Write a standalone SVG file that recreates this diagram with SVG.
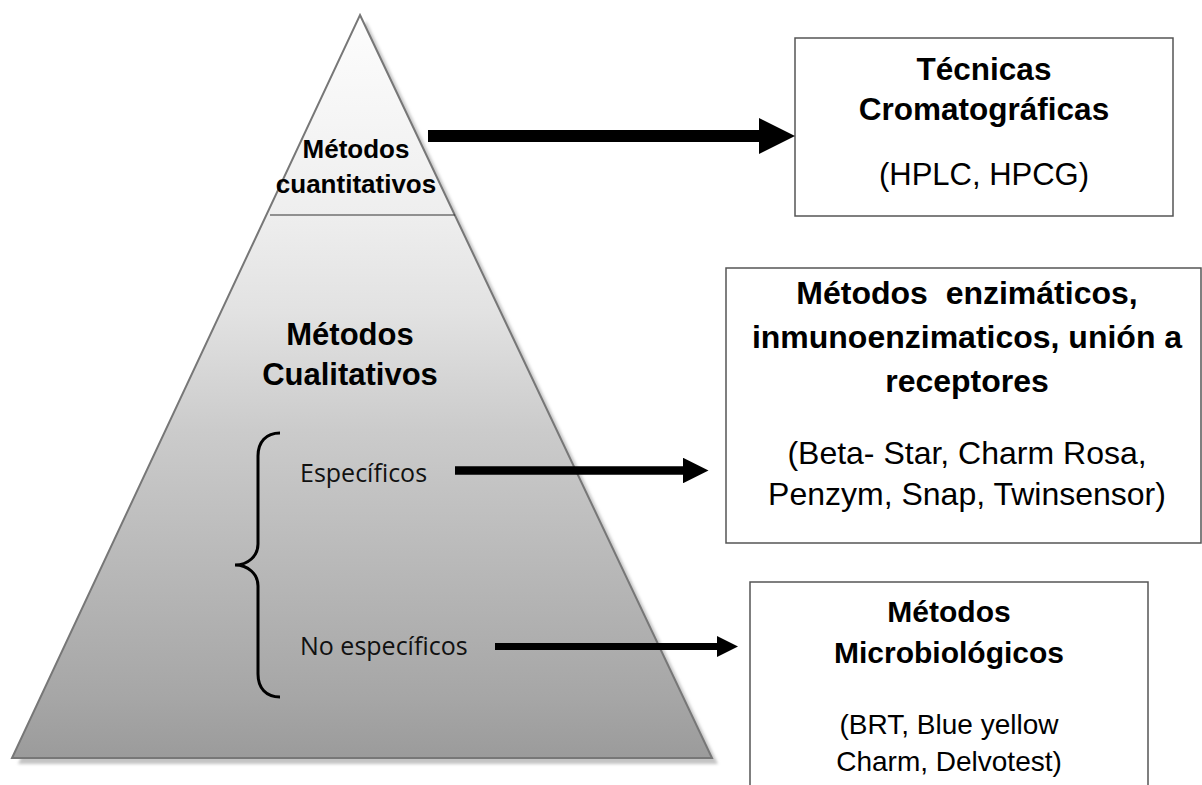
<svg xmlns="http://www.w3.org/2000/svg" width="1202" height="785" viewBox="0 0 1202 785">
<style>
.bold{font-family:"Liberation Sans",Arial,sans-serif;font-weight:bold;fill:#000;text-anchor:middle}
.reg{font-family:"Liberation Sans",Arial,sans-serif;fill:#000;text-anchor:middle}
.cal{font-family:"Open Sans",sans-serif;fill:#111;font-size:25px}
.box{fill:#fff;stroke:#555;stroke-width:1.5}
.arrow{stroke:#000;fill:none;marker-end:url(#head)}
</style>
<defs>
<linearGradient id="pyr" gradientUnits="userSpaceOnUse" x1="0" y1="15" x2="0" y2="758">
<stop offset="0" stop-color="#fdfdfd"/>
<stop offset="0.27" stop-color="#eeeeee"/>
<stop offset="0.4" stop-color="#e2e2e2"/>
<stop offset="0.56" stop-color="#cbcbcb"/>
<stop offset="0.92" stop-color="#a6a6a6"/>
<stop offset="1" stop-color="#9b9b9b"/>
</linearGradient>
<filter id="blur" x="-5%" y="-5%" width="110%" height="110%"><feGaussianBlur stdDeviation="1.5"/></filter>
<marker id="head" viewBox="0 0 3 3" refX="0" refY="1.5" markerWidth="3" markerHeight="3" markerUnits="strokeWidth" orient="auto">
<path d="M0,0 L3,1.5 L0,3 Z" fill="#000"/>
</marker>
</defs>

<g id="pyramid">
<polygon points="366,21 718,764 18,764" fill="#c4c4c4" filter="url(#blur)"/>
<polygon points="360,15 712,758 12,758" fill="url(#pyr)" stroke="#777" stroke-width="2"/>
<line x1="270" y1="215" x2="455" y2="215" stroke="#333" stroke-width="1.2"/>
<text class="bold" font-size="26" x="356" y="158">Métodos</text>
<text class="bold" font-size="26" x="356" y="193">cuantitativos</text>
<text class="bold" font-size="31" x="350" y="345">Métodos</text>
<text class="bold" font-size="31" x="350" y="385">Cualitativos</text>
<path d="M280,433 C266,433 258,442 258,456 L258,544 C258,556 248,565 235,565 C248,565 258,574 258,586 L258,674 C258,688 266,697 280,697" fill="none" stroke="#000" stroke-width="3"/>
<text class="cal" x="300" y="482">Específicos</text>
<text class="cal" x="300" y="655">No específicos</text>
</g>

<g id="box-cromatograficas">
<rect class="box" x="795" y="38" width="378" height="178"/>
<text class="bold" font-size="31.5" x="984" y="80">Técnicas</text>
<text class="bold" font-size="31.5" x="984" y="120">Cromatográficas</text>
<text class="reg" font-size="31" x="984" y="185">(HPLC, HPCG)</text>
</g>

<g id="box-enzimaticos">
<rect class="box" x="726" y="268" width="475" height="275"/>
<text class="bold" font-size="32" x="967" y="304" xml:space="preserve">Métodos  enzimáticos,</text>
<text class="bold" font-size="32" x="967" y="348">inmunoenzimaticos, unión a</text>
<text class="bold" font-size="32" x="967" y="392">receptores</text>
<text class="reg" font-size="32" x="967" y="464">(Beta- Star, Charm Rosa,</text>
<text class="reg" font-size="32" x="967" y="505">Penzym, Snap, Twinsensor)</text>
</g>

<g id="box-microbiologicos">
<path d="M750,786 L750,582 L1148,582 L1148,786" fill="#fff" stroke="#555" stroke-width="1.5"/>
<text class="bold" font-size="30" x="949" y="622">Métodos</text>
<text class="bold" font-size="30" x="949" y="663">Microbiológicos</text>
<text class="reg" font-size="28" x="949" y="734">(BRT, Blue yellow</text>
<text class="reg" font-size="28" x="949" y="771">Charm, Delvotest)</text>
</g>

<g id="connectors">
<line class="arrow" x1="428" y1="136" x2="759" y2="136" stroke-width="12"/>
<line class="arrow" x1="455" y1="470.5" x2="683" y2="470.5" stroke-width="8.5"/>
<line class="arrow" x1="495" y1="646.5" x2="717" y2="646.5" stroke-width="7"/>
</g>
</svg>
